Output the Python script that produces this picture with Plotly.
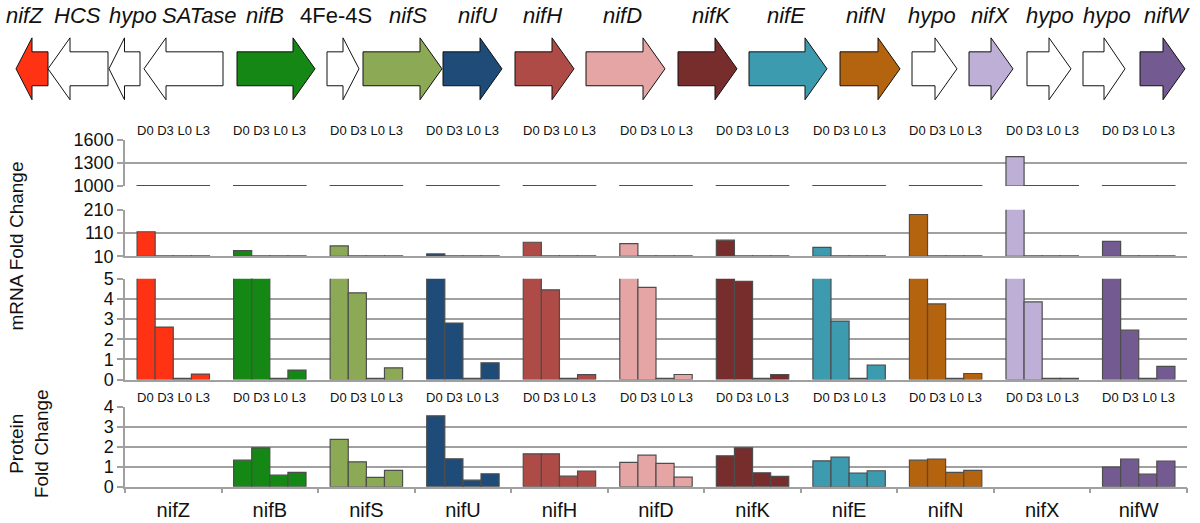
import plotly.graph_objects as go

# ---------------- data ----------------
genes = ["nifZ", "nifB", "nifS", "nifU", "nifH", "nifD", "nifK", "nifE", "nifN", "nifX", "nifW"]
series = ["D0", "D3", "L0", "L3"]
gene_colors = ["#ff3214", "#148714", "#8caa55", "#1e4b78", "#af4b46", "#e6a5a5",
               "#782d2d", "#3c9baf", "#b4640f", "#beafd7", "#735a91"]

mrna_D0 = [116, 35, 55, 21, 71, 65, 80, 49, 190, 1380, 75]
mrna_D3 = [2.6, 7.0, 4.3, 2.8, 4.45, 4.57, 4.87, 2.9, 3.75, 3.85, 2.45]
mrna_L0 = [0.04, 0.04, 0.04, 0.04, 0.04, 0.04, 0.04, 0.04, 0.04, 0.04, 0.04]
mrna_L3 = [0.27, 0.47, 0.58, 0.83, 0.24, 0.25, 0.25, 0.71, 0.30, 0.04, 0.65]

prot_D0 = [None, 1.33, 2.37, 3.55, 1.65, 1.22, 1.55, 1.30, 1.33, None, 0.98]
prot_D3 = [None, 1.95, 1.25, 1.40, 1.65, 1.58, 1.95, 1.48, 1.38, None, 1.38]
prot_L0 = [None, 0.58, 0.47, 0.33, 0.53, 1.17, 0.70, 0.68, 0.72, None, 0.63]
prot_L3 = [None, 0.72, 0.82, 0.65, 0.78, 0.48, 0.52, 0.80, 0.82, None, 1.28]

# broken mRNA axis segments (low, high, tick values)
seg_A = (1000, 1600, [1000, 1300, 1600])
seg_B = (10, 210, [10, 110, 210])
seg_C = (0, 5, [0, 1, 2, 3, 4, 5])
prot_ticks = [0, 1, 2, 3, 4]

# gene map (operon drawing), positions in pixels along the operon strip
map_names = ["nifZ", "HCS", "hypo", "SATase", "nifB", "4Fe-4S", "nifS", "nifU", "nifH",
             "nifD", "nifK", "nifE", "nifN", "hypo", "nifX", "hypo", "hypo", "nifW"]
map_start = [16, 48, 109, 144, 237, 327, 363, 443, 515, 586, 678, 749, 840, 912, 969, 1027, 1083, 1140]
map_end = [48, 108, 140, 223, 315, 359, 442, 502, 574, 665, 737, 827, 900, 957, 1013, 1071, 1125, 1185]
map_strand = [-1, -1, -1, -1, 1, 1, 1, 1, 1, 1, 1, 1, 1, 1, 1, 1, 1, 1]
map_colors = ["#ff3214", "white", "white", "white", "#148714", "white", "#8caa55", "#1e4b78",
              "#af4b46", "#e6a5a5", "#782d2d", "#3c9baf", "#b4640f", "white", "#beafd7",
              "white", "white", "#735a91"]
map_label_x = [25, 77, 133, 199, 265, 336, 408, 477, 542, 622, 711, 786, 865, 932, 990, 1050, 1107, 1167]

# ---------------- figure ----------------
W, H = 1200, 523
FONT = "Liberation Sans, Arial, sans-serif"
GRID = "#a0a0a0"
OUTLINE = "#4d4d4d"

# vertical placement helper (screen px -> paper fraction)
V_OFF, V_SCALE = 9.1, 0.9635

def pfrac(py):
    return 1 - ((py - V_OFF) / V_SCALE) / H

def px_dom(top, bottom):
    return [pfrac(bottom), pfrac(top)]

fig = go.Figure()

mrna = [mrna_D0, mrna_D3, mrna_L0, mrna_L3]
prot = [prot_D0, prot_D3, prot_L0, prot_L3]

def seg_heights(vals, lo, hi):
    eps = 0.012 * (hi - lo)
    return [max(v - lo, eps) for v in vals]

segments = [("x2", "y2", seg_C), ("x3", "y3", seg_B), ("x4", "y4", seg_A)]
for s_idx, name in enumerate(series):
    for xa, ya, (lo, hi, _t) in segments:
        fig.add_trace(go.Bar(
            x=genes, y=seg_heights(mrna[s_idx], lo, hi), base=lo,
            xaxis=xa, yaxis=ya, name=name, showlegend=False,
            marker=dict(color=gene_colors, line=dict(color=OUTLINE, width=1.2)),
            hoverinfo="skip"))
    fig.add_trace(go.Bar(
        x=genes, y=prot[s_idx], xaxis="x", yaxis="y", name=name, showlegend=False,
        marker=dict(color=gene_colors, line=dict(color=OUTLINE, width=1.2)),
        hoverinfo="skip"))

# operon arrows
CY, BODY, HEAD = 68, 17, 31
for s, e, d, c in zip(map_start, map_end, map_strand, map_colors):
    h = min(22, 0.5 * (e - s))
    if d > 0:
        xs = [s, e - h, e - h, e, e - h, e - h, s, s]
    else:
        xs = [e, s + h, s + h, s, s + h, s + h, e, e]
    ys = [CY - BODY, CY - BODY, CY - HEAD, CY, CY + HEAD, CY + BODY, CY + BODY, CY - BODY]
    fig.add_trace(go.Scatter(x=xs, y=ys, xaxis="x5", yaxis="y5", mode="lines",
                             fill="toself", fillcolor=c, line=dict(color="#111111", width=1),
                             showlegend=False, hoverinfo="skip"))

annotations = []
for nm, lx in zip(map_names, map_label_x):
    annotations.append(dict(
        x=lx, y=15, xref="x5", yref="y5", showarrow=False,
        text=nm if nm == "4Fe-4S" else "<i>%s</i>" % nm,
        font=dict(family=FONT, size=22, color="#111111"),
        xanchor="center", yanchor="middle"))

label = " ".join(series)
for g in genes:
    annotations.append(dict(x=g, y=pfrac(130), xref="x4", yref="paper", text=label,
                            showarrow=False, font=dict(family=FONT, size=13, color="#111111"),
                            xanchor="center", yanchor="middle"))
    annotations.append(dict(x=g, y=pfrac(397), xref="x", yref="paper", text=label,
                            showarrow=False, font=dict(family=FONT, size=13, color="#111111"),
                            xanchor="center", yanchor="middle"))

annotations.append(dict(x=16 / W, y=pfrac(246), xref="paper", yref="paper",
                        text="mRNA Fold Change", textangle=-90, showarrow=False,
                        font=dict(family=FONT, size=19, color="#111111"),
                        xanchor="center", yanchor="middle"))
annotations.append(dict(x=29 / W, y=pfrac(444), xref="paper", yref="paper",
                        text="Protein<br>Fold Change", textangle=-90, showarrow=False,
                        font=dict(family=FONT, size=19, color="#111111"),
                        xanchor="center", yanchor="middle"))

xdom = [125 / W, 1187 / W]

xbase = dict(type="category", categoryarray=genes, categoryorder="array",
             range=[-0.5, len(genes) - 0.5], domain=xdom, showgrid=False, zeroline=False,
             showticklabels=False, ticks="", showline=True, linecolor=GRID, linewidth=1.5)

def ybase(lo, hi, tv):
    return dict(range=[lo, hi], tickvals=tv, showgrid=True, gridcolor=GRID, gridwidth=1.5,
                zeroline=False, showline=True, linecolor=GRID, linewidth=1.5,
                ticks="outside", ticklen=6, tickcolor=GRID, tickwidth=1.5,
                tickfont=dict(family=FONT, size=18, color="#111111"))

yA = ybase(seg_A[0], seg_A[1], seg_A[2])
yA["showgrid"] = False
yA["minor"] = dict(tickvals=seg_A[2][1:], showgrid=True, gridcolor=GRID, gridwidth=1.5, ticks="")

x1 = dict(xbase)
x1.update(showticklabels=True, tickson="boundaries", ticks="outside", ticklen=5,
          tickcolor=GRID, tickwidth=1.5, ticklabelstandoff=5,
          tickfont=dict(family=FONT, size=20, color="#111111"))
x4 = dict(xbase, showline=False, anchor="y4")

fig.update_layout(
    width=W, height=H, autosize=False,
    margin=dict(l=0, r=0, t=0, b=0),
    paper_bgcolor="white", plot_bgcolor="white",
    barmode="group", bargap=0.25, bargroupgap=0,
    font=dict(family=FONT),
    xaxis=dict(x1, anchor="y"),
    xaxis2=dict(xbase, anchor="y2"),
    xaxis3=dict(xbase, anchor="y3"),
    xaxis4=x4,
    xaxis5=dict(domain=[0, 1], range=[0, W], visible=False, anchor="y5"),
    yaxis=dict(ybase(0, 4, prot_ticks), domain=px_dom(406.7, 486.7), anchor="x"),
    yaxis2=dict(ybase(seg_C[0], seg_C[1], seg_C[2]), domain=px_dom(278.3, 379.3), anchor="x2"),
    yaxis3=dict(ybase(seg_B[0], seg_B[1], seg_B[2]), domain=px_dom(209.3, 256), anchor="x3"),
    yaxis4=dict(yA, domain=px_dom(139, 185.5), anchor="x4"),
    yaxis5=dict(domain=px_dom(10, 105), range=[105, 10], visible=False, anchor="x5"),
    annotations=annotations,
)

fig.write_html("out.html", config={"displayModeBar": False},
               post_script="document.body.style.margin='0';document.body.style.overflow='hidden';")
